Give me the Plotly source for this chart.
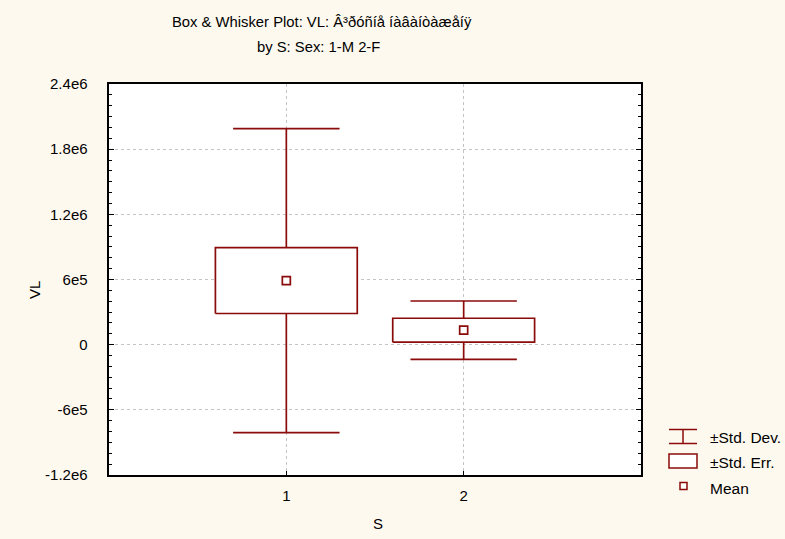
import plotly.graph_objects as go

# Group statistics for VL by sex
categories = [1, 2]
means = [5.90e5, 1.33e5]
std_errs = [3.03e5, 1.10e5]
std_devs = [1.40e6, 2.69e5]
y_tick_vals = [-1.2e6, -6e5, 0, 6e5, 1.2e6, 1.8e6, 2.4e6]
y_tick_text = ["-1.2e6", "-6e5", "0", "6e5", "1.2e6", "1.8e6", "2.4e6"]

RED = "#8b0a0a"
BG = "#fef9ef"
FONT = "Liberation Sans, Arial, sans-serif"
BOX_HALF = 0.4
CAP_HALF = 0.3
LW = 1.7
PAD = "\u00a0" * 4  # keeps y tick labels clear of the axis line

fig = go.Figure()

# whisker stems (mean±SE to mean±SD) and caps
wx, wy = [], []
for c, m, se, sd in zip(categories, means, std_errs, std_devs):
    wx += [c, c, None, c, c, None,
           c - CAP_HALF, c + CAP_HALF, None, c - CAP_HALF, c + CAP_HALF, None]
    wy += [m + se, m + sd, None, m - se, m - sd, None,
           m + sd, m + sd, None, m - sd, m - sd, None]
fig.add_trace(go.Scatter(x=wx, y=wy, mode="lines",
                         line=dict(color=RED, width=LW), hoverinfo="skip"))

# standard-error boxes
for c, m, se in zip(categories, means, std_errs):
    fig.add_trace(go.Scatter(
        x=[c - BOX_HALF, c + BOX_HALF, c + BOX_HALF, c - BOX_HALF, c - BOX_HALF],
        y=[m - se, m - se, m + se, m + se, m - se],
        mode="lines", fill="toself", fillcolor="white",
        line=dict(color=RED, width=LW), hoverinfo="skip"))

# means
fig.add_trace(go.Scatter(x=categories, y=means, mode="markers",
                         marker=dict(symbol="square", size=8, color="white",
                                     line=dict(color=RED, width=1.7))))

# legend and titles placed in paper space
def px(xp):
    return (xp - 109) / (641 - 109)

def py(yp):
    return (475 - yp) / (475 - 84)

line = dict(color=RED, width=1.5)
shapes = [
    dict(type="line", xref="paper", yref="paper", x0=px(669), x1=px(697), y0=py(429.5), y1=py(429.5), line=line),
    dict(type="line", xref="paper", yref="paper", x0=px(669), x1=px(697), y0=py(443.5), y1=py(443.5), line=line),
    dict(type="line", xref="paper", yref="paper", x0=px(683), x1=px(683), y0=py(429.5), y1=py(443.5), line=line),
    dict(type="rect", xref="paper", yref="paper", x0=px(669), x1=px(697), y0=py(454), y1=py(468),
         line=line, fillcolor="white"),
    dict(type="rect", xref="paper", yref="paper", x0=px(680), x1=px(687), y0=py(482.5), y1=py(489.5),
         line=line, fillcolor="white"),
]
legend_items = [("±Std. Dev.", 437), ("±Std. Err.", 462), ("Mean", 488)]
annotations = [
    dict(text=t, xref="paper", yref="paper", x=px(708), y=py(yy), xanchor="left",
         yanchor="middle", showarrow=False, font=dict(size=15.5, color="black", family=FONT))
    for t, yy in legend_items
]
annotations += [
    dict(text="Box & Whisker Plot: VL: Â³ðóñíå íàâàíòàæåíÿ", xref="paper", yref="paper",
         x=px(322), y=py(22), xanchor="center", yanchor="middle", showarrow=False,
         font=dict(size=14.8, color="black", family=FONT)),
    dict(text="by S: Sex: 1-M 2-F", xref="paper", yref="paper",
         x=px(318), y=py(47), xanchor="center", yanchor="middle", showarrow=False,
         font=dict(size=14.8, color="black", family=FONT)),
    dict(text="VL", xref="paper", yref="paper", x=px(34), y=py(290), textangle=-90,
         xanchor="center", yanchor="middle", showarrow=False,
         font=dict(size=15, color="black", family=FONT)),
    dict(text="S", xref="paper", yref="paper", x=px(378), y=py(523),
         xanchor="center", yanchor="middle", showarrow=False,
         font=dict(size=15, color="black", family=FONT)),
]

fig.update_layout(
    width=785, height=539,
    margin=dict(l=109, r=144, t=84, b=64),
    paper_bgcolor=BG, plot_bgcolor="white",
    showlegend=False,
    font=dict(family=FONT, size=15, color="black"),
    shapes=shapes, annotations=annotations,
)
fig.update_xaxes(
    range=[0, 3], tickvals=categories, ticktext=[str(c) for c in categories],
    showline=True, linecolor="black", linewidth=1.5, mirror=True,
    ticks="inside", ticklen=4, tickcolor="black",
    ticklabelstandoff=6, tickfont=dict(size=15),
    showgrid=True, gridcolor="#c4c4c4", griddash="dot", gridwidth=1,
    zeroline=False, automargin=False,
)
fig.update_yaxes(
    range=[-1.2e6, 2.4e6], tickvals=y_tick_vals, ticktext=[t + PAD for t in y_tick_text],
    showline=True, linecolor="black", linewidth=1.5, mirror="allticks",
    ticks="inside", ticklen=5, tickcolor="black",
    tickfont=dict(size=15),
    minor=dict(dtick=1e5, ticks="inside", ticklen=3, tickcolor="black", showgrid=False),
    showgrid=True, gridcolor="#c4c4c4", griddash="dot", gridwidth=1,
    zeroline=False, automargin=False,
)

fig.write_html("out.html")
